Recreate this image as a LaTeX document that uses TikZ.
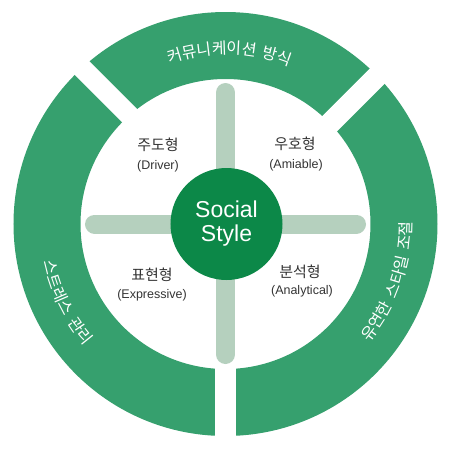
\documentclass[tikz,border=0pt]{standalone}
\usepackage{fontspec}
\setmainfont{Liberation Sans}
\newfontfamily\krfont{Noto Sans CJK KR}
\usepackage{tikz}
\usetikzlibrary{%
	decorations.text%
}
\definecolor{ringgreen}{RGB}{54,160,110}
\definecolor{coregreen}{RGB}{12,136,72}
\definecolor{barmint}{RGB}{181,208,190}
\definecolor{labelgray}{RGB}{51,51,51}

\tikzset{
	kortype/.style={font=\krfont\fontsize{15}{15}\selectfont,text=labelgray,inner sep=0pt},
	engtype/.style={font=\fontsize{12.5}{12.5}\selectfont,text=labelgray,inner sep=0pt},
	gapcut/.style={draw=white,line width=#1},
	crossbar/.style={draw=barmint,line width=19pt,line cap=round},
	ringtext/.style={decorate,decoration={text along path,text color=white,text align=center,
		text={|\krfont\fontsize{16}{16}\selectfont|#1}}}
}

\begin{document}
\begin{tikzpicture}[x=1pt,y=1pt]
\useasboundingbox (-225.5,-224) rectangle (224.5,224);

% Ring
\fill [ringgreen,even odd rule] (0,0) circle (212pt) (0,0) circle (145pt);

% White cuts
\draw [gapcut=21pt] (0,0) -- (0,-230);
\draw [gapcut=20pt] (6.25,6.25) -- ++(135:240);
\draw [gapcut=21.2pt] (1.9,-1.9) -- ++(45:240);

% Cross
\draw [crossbar] (0,-130.5) -- (0,131.5);
\draw [crossbar] (-131,0) -- (131,0);

% Core
\node [circle,fill=coregreen,minimum size=112pt,inner sep=0pt,text=white,align=center,
	font=\fontsize{23}{24}\selectfont] (core) at (1,0) {Social\\Style};

% Quadrants
\node [kortype] (driver) at (-67.5,79) {주도형};
\node [engtype] (driverEn) at (-67.5,58) {(Driver)};
\node [kortype] (amiable) at (69.5,80) {우호형};
\node [engtype] (amiableEn) at (70.5,59) {(Amiable)};
\node [kortype] (express) at (-73.5,-51) {표현형};
\node [engtype] (expressEn) at (-73.5,-71) {(Expressive)};
\node [kortype] (analytic) at (74.5,-48) {분석형};
\node [engtype] (analyticEn) at (76.5,-67) {(Analytical)};

% Ring labels
\path [ringtext={커뮤니케이션{\kern5pt}방식}] (128.7:170pt) arc [start angle=128.7,end angle=48.7,radius=170pt];
\path [ringtext={스트레스{\kern6.5pt}관리}] (166.3:186pt) arc [start angle=166.3,end angle=246.3,radius=186pt];
\path [ringtext={유연한{\kern6.5pt}스타일{\kern6.5pt}조절}] (-59.4:186pt) arc [start angle=-59.4,end angle=20.6,radius=186pt];
\end{tikzpicture}
\end{document}
